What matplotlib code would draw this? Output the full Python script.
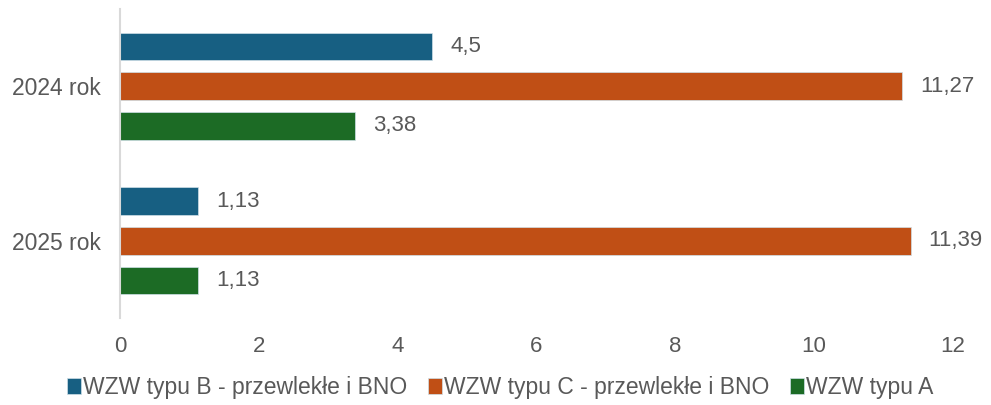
import matplotlib.pyplot as plt
import numpy as np

plt.rcParams['font.family'] = ['Liberation Sans', 'DejaVu Sans']

years = ["2024 rok", "2025 rok"]
series_names = ["WZW typu B - przewlekłe i BNO", "WZW typu C - przewlekłe i BNO", "WZW typu A"]
typ_b = [4.5, 1.13]
typ_c = [11.27, 11.39]
typ_a = [3.38, 1.13]
colors = ["#175f82", "#c04f15", "#1c6b25"]

text_color = "#595959"

fig = plt.figure(figsize=(9.91, 4.05), dpi=100)
ax = fig.add_axes([0.1211, 0.2148, 0.8405, 0.763])

y = np.arange(len(years))
step = 0.257
height = 0.178
offsets = [-step, 0, step]

for vals, name, col, off in zip([typ_b, typ_c, typ_a], series_names, colors, offsets):
    bars = ax.barh(y + off, vals, height=height, color=col, label=name,
                   edgecolor="#cfe0e8", linewidth=0.5)
    for b, v in zip(bars, vals):
        txt = ("%g" % v).replace(".", ",")
        ax.text(v + 0.26, b.get_y() + b.get_height() / 2, txt,
                va="center", ha="left", fontsize=16, color=text_color)

ax.set_ylim(1.5, -0.5)
ax.set_xlim(0, 12)
ax.set_xticks(range(0, 13, 2))
ax.set_yticks(y)
ax.set_yticklabels(years)
ax.tick_params(axis="both", length=0, labelsize=16, colors=text_color)
ax.tick_params(axis="x", pad=13)
ax.tick_params(axis="y", pad=14, labelsize=16.5)

for s in ["top", "right", "bottom"]:
    ax.spines[s].set_visible(False)
ax.spines["left"].set_color("#d9d9d9")
ax.spines["left"].set_linewidth(1.5)

leg = fig.legend(loc="lower center", bbox_to_anchor=(0.505, -0.037), ncol=3,
                 frameon=False, fontsize=16.5, handlelength=0.6, handleheight=0.7,
                 handletextpad=0.1, columnspacing=0.9)
for t in leg.get_texts():
    t.set_color(text_color)

fig.savefig("out.png", dpi=100)
